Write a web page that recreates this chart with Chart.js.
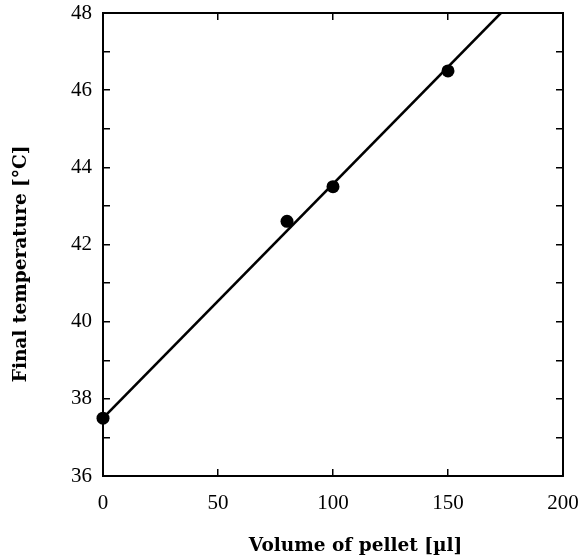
<!DOCTYPE html>
<html>
<head>
<meta charset="utf-8">
<script src="https://cdn.jsdelivr.net/npm/chart.js@4/dist/chart.umd.min.js"></script>
<style>
  html, body { margin: 0; padding: 0; background: #fff; }
  #wrap { width: 580px; height: 558px; }
</style>
</head>
<body>
<div id="wrap"><canvas id="myChart" width="580" height="558"></canvas></div>
<script>
// measured points
var volumes = [0, 80, 100, 150];
var temps = [37.5, 42.6, 43.5, 46.5];

// fitted line (ends at the top border)
var fitX = [0, 173];
var fitY = [37.5, 48];

// ticks
var xTicks = [0, 50, 100, 150, 200];
var yTicks = [36, 38, 40, 42, 44, 46, 48];
var yMinorTicks = [37, 39, 41, 43, 45, 47];

var tickFont = { family: 'Liberation Serif', size: 21 };
var titleFont = { family: 'DejaVu Serif', size: 18.5, weight: 'bold' };

// titles in the original sit off the plot centre, so pad them with spaces
var pad = function(n) { return new Array(n + 1).join('\u00a0'); };
var xTitle = pad(7) + 'Volume of pellet [µl]';
var yTitle = 'Final temperature [°C]' + pad(6);

function setXTicks(scale) {
    scale.ticks = xTicks.map(function(v) { return { value: v }; });
}
function setYTicks(scale) {
    scale.ticks = yTicks.concat(yMinorTicks).sort(function(a, b) { return a - b; })
        .map(function(v) { return { value: v }; });
}
function yLabel(v) {
    return yTicks.indexOf(v) >= 0 ? String(v) : '';
}
// fixed axis sizes, no label overflow padding (layout.padding handles the edges)
function sizeXAxis(h) {
    return function(s) { s.height = h; s.paddingLeft = 0; s.paddingRight = 0; };
}
function sizeYAxis(w) {
    return function(s) { s.width = w; s.paddingTop = 0; s.paddingBottom = 0; };
}

var inwardGrid = { drawOnChartArea: false, drawTicks: true, tickLength: -7, color: '#000', lineWidth: 1.5 };
var boxBorder = { display: true, color: '#000', width: 2 };

var config = {
    type: 'scatter',
    data: {
        datasets: [{
            label: 'fit',
            data: fitX.map(function(x, i) { return { x: x, y: fitY[i] }; }),
            showLine: true,
            borderColor: '#000',
            borderWidth: 2.5,
            pointRadius: 0,
            fill: false
        }, {
            label: 'data',
            data: volumes.map(function(x, i) { return { x: x, y: temps[i] }; }),
            pointRadius: 6.5,
            pointBackgroundColor: '#000',
            pointBorderColor: '#000',
            pointBorderWidth: 0,
            clip: false
        }]
    },
    options: {
        responsive: false,
        animation: false,
        layout: { padding: { top: 13, right: 17, bottom: 0, left: 0 } },
        plugins: {
            legend: { display: false },
            tooltip: { enabled: false }
        },
        scales: {
            x: {
                type: 'linear', position: 'bottom', min: 0, max: 200,
                afterBuildTicks: setXTicks,
                afterFit: sizeXAxis(82),
                grid: inwardGrid,
                border: boxBorder,
                ticks: { color: '#000', font: tickFont, padding: 22, maxRotation: 0 },
                title: { display: true, text: xTitle, color: '#000', font: titleFont, padding: { top: 0, bottom: 1 } }
            },
            x2: {
                type: 'linear', position: 'top', min: 0, max: 200,
                afterBuildTicks: setXTicks,
                afterFit: sizeXAxis(0),
                grid: inwardGrid,
                border: boxBorder,
                ticks: { display: false }
            },
            y: {
                type: 'linear', position: 'left', min: 36, max: 48,
                afterBuildTicks: setYTicks,
                afterFit: sizeYAxis(103),
                grid: inwardGrid,
                border: boxBorder,
                ticks: { color: '#000', font: tickFont, padding: 18, autoSkip: false, callback: yLabel },
                title: { display: true, text: yTitle, color: '#000', font: titleFont, padding: { top: 10, bottom: 0 } }
            },
            y2: {
                type: 'linear', position: 'right', min: 36, max: 48,
                afterBuildTicks: setYTicks,
                afterFit: sizeYAxis(0),
                grid: inwardGrid,
                border: boxBorder,
                ticks: { display: false }
            }
        }
    }
};

window.addEventListener('DOMContentLoaded', function() {
    var ctx = document.getElementById('myChart').getContext('2d');
    window.myChart = new Chart(ctx, config);
});
</script>
</body>
</html>
